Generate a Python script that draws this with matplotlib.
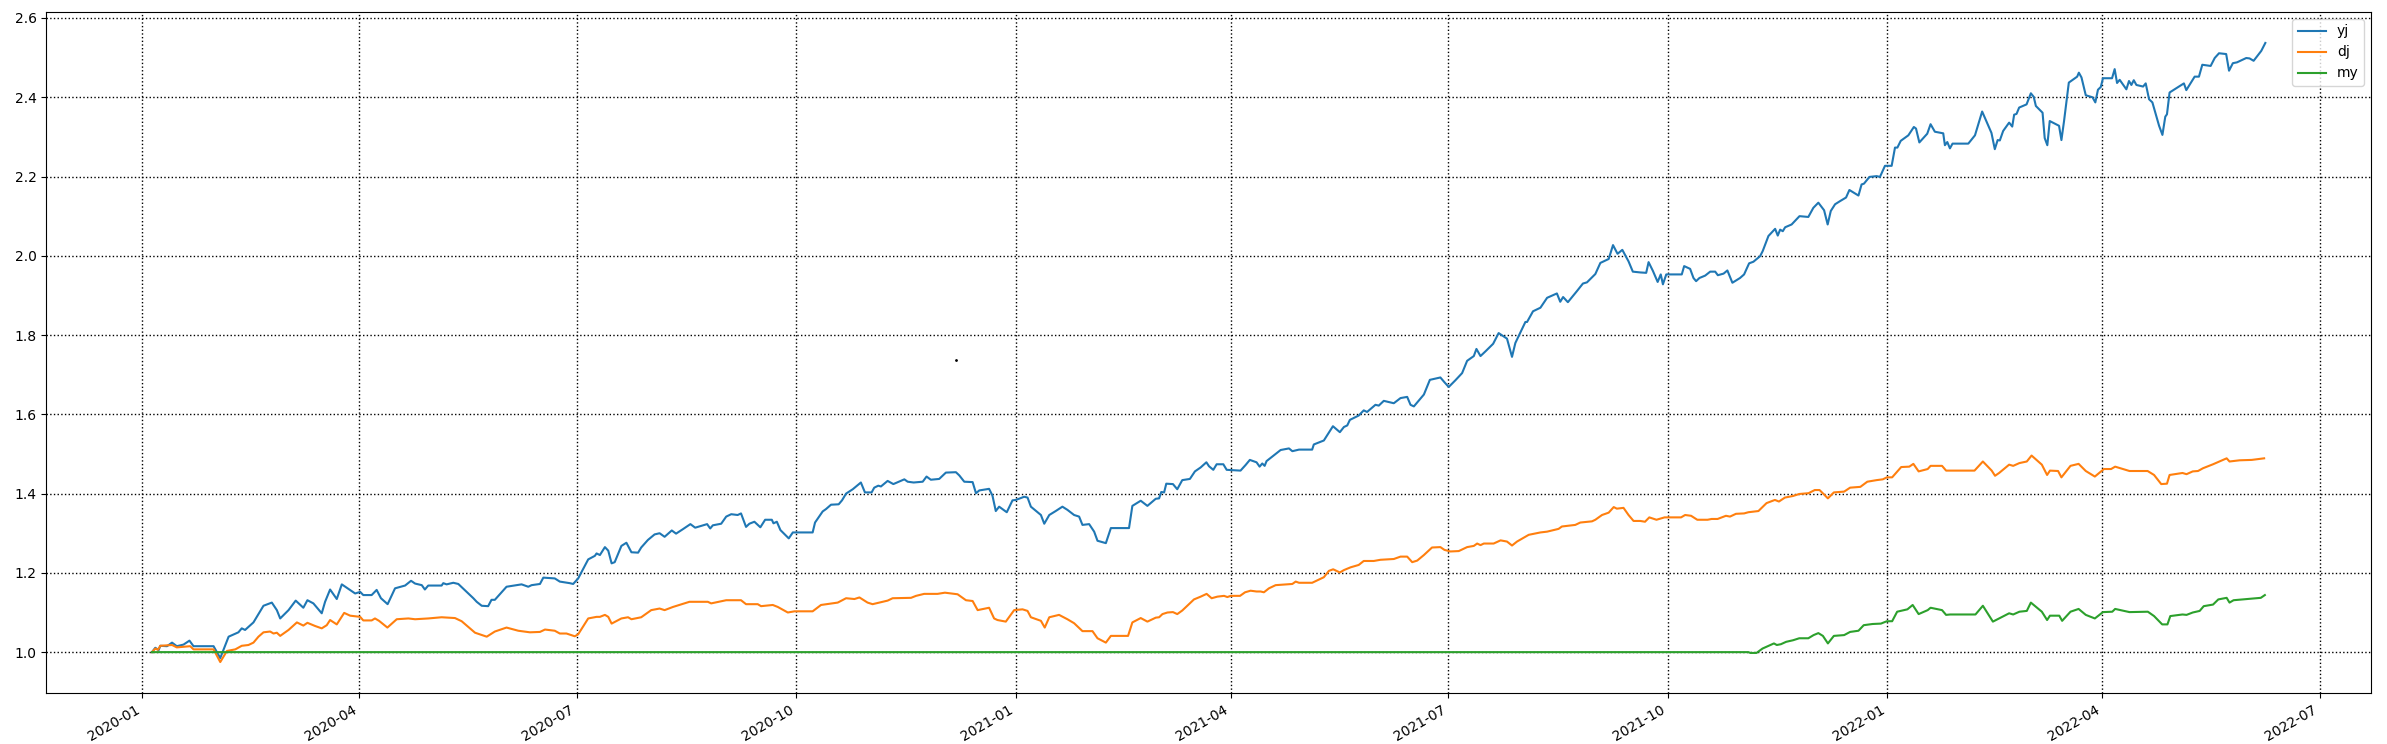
import matplotlib
matplotlib.use('Agg')
import matplotlib.dates as mdates
import pandas
from matplotlib import pyplot

start = pandas.Timestamp('2020-01-01')

# days counted from 2020-01-01
yj_day = [4.2, 5.6, 7.0, 7.7, 10.5, 12.6, 14.6, 17.4, 19.9, 21.6, 30.0, 32.8, 36.3, 40.4, 41.8, 43.2,
          46.7, 48.1, 50.9, 54.4, 56.5, 57.9, 61.4, 64.4, 67.6, 69.3, 71.8, 75.3, 76.7, 78.8, 81.6,
          83.7, 89.3, 91.4, 92.7, 96.2, 98.3, 100.1, 102.9, 106.0, 110.2, 112.7, 114.4, 117.2, 118.5,
          119.9, 125.5, 126.2, 127.6, 130.4, 132.5, 136.0, 138.8, 140.2, 142.3, 145.0, 146.4, 147.8,
          152.7, 154.8, 159.0, 161.8, 163.2, 166.7, 168.1, 172.9, 175.0, 179.2, 180.6, 182.7, 186.9,
          189.7, 190.4, 191.8, 193.9, 195.3, 196.7, 198.0, 200.8, 202.9, 205.0, 207.8,
          209.1, 211.9, 214.7, 216.8, 218.9, 221.9, 223.7, 226.5, 229.7, 231.7, 236.7, 238.0, 239.1,
          242.6, 244.7, 246.8, 249.5, 250.9, 253.0, 254.4, 256.5, 259.0, 261.0, 263.8, 264.5, 265.9,
          267.4, 270.9, 272.6, 280.9, 281.9, 285.1, 286.5, 288.6, 291.8, 293.2, 294.9, 297.7, 301.1,
          302.8, 305.6, 306.7, 308.4, 309.5, 312.3, 314.7, 319.3, 320.7, 323.2, 327.0, 328.6, 330.4,
          333.9, 336.7, 340.9, 342.3, 344.4, 347.9, 349.3, 350.7, 354.8, 356.2, 357.6, 359.0, 362.2,
          364.6, 366.0, 369.5, 370.9, 372.3, 376.5, 377.9, 380.0, 382.7, 385.5, 387.6, 390.4, 392.5,
          393.9, 396.7, 398.8, 400.2, 403.7, 405.8, 413.4, 414.8,
          418.3, 421.1, 424.6, 426.0, 426.9, 428.1, 429.0, 431.8, 433.6, 435.7, 438.9, 441.0, 443.4,
          445.8, 446.9, 448.7, 450.1, 452.9, 454.3, 460.1, 462.2, 464.0, 466.8, 468.1, 469.2, 470.2,
          471.0, 474.8, 476.9, 480.4, 481.8, 484.6, 490.1, 490.8, 495.0, 498.8, 501.7, 503.4, 504.8,
          505.9, 509.6, 511.7, 513.1, 516.6, 518.0, 520.1, 524.3, 527.1, 529.9, 531.3, 532.7, 536.9,
          539.4, 543.8, 545.5, 547.3, 550.1, 552.9, 555.0, 557.8, 558.9, 560.6, 562.7, 565.9, 568.2,
          571.7, 573.8, 575.2, 579.4, 580.1, 582.6, 585.7, 588.5, 592.6, 594.0, 595.2, 597.2, 601.0,
          603.5, 605.2, 608.7, 610.8, 614.3, 616.1, 618.0, 620.0, 622.6, 624.4,
          627.5, 630.0, 631.0, 632.8, 634.8, 636.1, 637.0, 638.4, 644.9, 645.9, 648.4, 649.8, 650.9,
          652.3, 654.7, 656.8, 658.9, 660.0, 662.4, 664.0, 666.1, 669.3, 671.0, 673.1, 674.9, 677.7,
          678.8, 681.2, 684.0, 685.1, 686.1, 687.2, 688.2, 690.9, 694.2, 697.9, 700.0, 702.1, 704.5,
          706.0, 707.3, 709.1, 711.2, 713.7, 715.1, 718.9, 720.2, 721.2, 723.5, 726.5, 727.9, 730.0,
          732.8, 734.2, 735.2, 736.6, 739.8, 742.1, 743.0, 744.4, 747.7, 749.1, 750.9, 754.4, 755.1,
          756.1, 757.2, 758.3, 764.9, 767.7, 770.7, 774.6, 776.0, 777.2,
          778.1, 779.5, 782.0, 783.3, 784.1, 785.1, 786.2, 789.3, 791.1, 792.3, 793.2, 796.0, 796.9,
          798.0, 799.0, 802.9, 803.9, 805.0, 807.0, 810.5, 811.2, 812.3, 814.1, 815.8, 816.9, 818.1,
          819.2, 820.4, 821.3, 825.1, 826.2, 827.2, 828.3, 831.1, 832.2, 833.2, 834.2, 835.3, 838.1,
          839.2, 840.6, 842.0, 844.8, 846.2, 847.4, 848.1, 849.2, 855.2, 856.2, 859.7, 861.5, 862.9,
          866.4, 868.1, 869.9, 872.9, 874.1, 875.7, 877.4, 881.3, 882.7, 884.4, 887.6, 889.3]
yj_val = [1.000, 1.011, 1.005, 1.016, 1.015, 1.024, 1.015, 1.019, 1.029, 1.015, 1.015, 0.985, 1.039,
          1.050, 1.060, 1.056, 1.075, 1.089, 1.117, 1.125, 1.106, 1.085, 1.106, 1.130, 1.112, 1.131,
          1.123, 1.098, 1.127, 1.158, 1.134, 1.171, 1.148, 1.152, 1.144, 1.144, 1.157, 1.136, 1.121,
          1.161, 1.168, 1.180, 1.173, 1.169, 1.158, 1.168, 1.168, 1.174, 1.171, 1.175, 1.172, 1.152,
          1.136, 1.127, 1.117, 1.116, 1.132, 1.132, 1.165, 1.167, 1.171, 1.165, 1.169, 1.172, 1.188,
          1.186, 1.178, 1.174, 1.172, 1.186, 1.234, 1.243, 1.249, 1.245, 1.265, 1.256, 1.224, 1.227,
          1.268, 1.276, 1.252, 1.251,
          1.264, 1.283, 1.297, 1.300, 1.291, 1.307, 1.299, 1.310, 1.323, 1.314, 1.323, 1.312, 1.320,
          1.324, 1.342, 1.348, 1.346, 1.350, 1.316, 1.324, 1.329, 1.315, 1.334, 1.334, 1.325, 1.329,
          1.308, 1.287, 1.302, 1.302, 1.327, 1.355, 1.361, 1.372, 1.373, 1.383, 1.400, 1.411, 1.428,
          1.403, 1.403, 1.415, 1.420, 1.418, 1.432, 1.424, 1.436, 1.430, 1.428, 1.430, 1.443, 1.435,
          1.437, 1.453, 1.454, 1.446, 1.430, 1.429, 1.401, 1.408, 1.412, 1.395, 1.356, 1.367, 1.353,
          1.383, 1.384, 1.392, 1.390, 1.367, 1.346, 1.324, 1.346, 1.356, 1.367, 1.359, 1.346, 1.342,
          1.321, 1.323, 1.304, 1.281, 1.275, 1.313, 1.313, 1.369,
          1.382, 1.369, 1.387, 1.388, 1.404, 1.403, 1.425, 1.424, 1.411, 1.434, 1.437, 1.456, 1.466,
          1.479, 1.469, 1.460, 1.474, 1.474, 1.460, 1.458, 1.472, 1.485, 1.479, 1.468, 1.476, 1.470,
          1.482, 1.500, 1.510, 1.514, 1.507, 1.511, 1.511, 1.524, 1.534, 1.570, 1.555, 1.568, 1.572,
          1.586, 1.597, 1.610, 1.606, 1.624, 1.622, 1.634, 1.628, 1.641, 1.644, 1.624, 1.620, 1.650,
          1.687, 1.693, 1.681, 1.669, 1.686, 1.704, 1.735, 1.747, 1.765, 1.747, 1.759, 1.778, 1.805,
          1.791, 1.745, 1.780, 1.833, 1.833, 1.860, 1.869, 1.894, 1.905, 1.884, 1.896, 1.883, 1.911,
          1.930, 1.933, 1.954, 1.982, 1.992, 2.027, 2.005, 2.015, 1.986, 1.960,
          1.958, 1.957, 1.984, 1.962, 1.934, 1.953, 1.928, 1.953, 1.953, 1.974, 1.967, 1.944, 1.936,
          1.944, 1.950, 1.960, 1.960, 1.951, 1.955, 1.963, 1.932, 1.944, 1.953, 1.981, 1.985, 1.999,
          2.012, 2.050, 2.068, 2.051, 2.066, 2.062, 2.072, 2.079, 2.100, 2.098, 2.121, 2.134, 2.115,
          2.079, 2.113, 2.130, 2.138, 2.147, 2.166, 2.152, 2.180, 2.182, 2.199, 2.201, 2.199, 2.227,
          2.227, 2.273, 2.273, 2.290, 2.304, 2.325, 2.321, 2.286, 2.308, 2.332, 2.313, 2.309, 2.279,
          2.287, 2.271, 2.283, 2.283, 2.304, 2.364, 2.310, 2.269, 2.292,
          2.291, 2.315, 2.336, 2.326, 2.356, 2.358, 2.374, 2.382, 2.410, 2.401, 2.378, 2.361, 2.297,
          2.279, 2.340, 2.328, 2.292, 2.340, 2.437, 2.452, 2.462, 2.450, 2.405, 2.402, 2.400, 2.387,
          2.419, 2.426, 2.448, 2.448, 2.471, 2.436, 2.444, 2.420, 2.441, 2.431, 2.443, 2.431, 2.427,
          2.435, 2.395, 2.387, 2.328, 2.305, 2.351, 2.357, 2.412, 2.435, 2.418, 2.452, 2.452, 2.482,
          2.479, 2.499, 2.511, 2.509, 2.467, 2.486, 2.488, 2.499, 2.498, 2.492, 2.517, 2.537]

dj_day = [4.2, 5.6, 6.7, 7.7, 12.6, 14.6, 20.2, 21.6, 30.0, 32.8, 35.6, 39.1, 41.8, 44.6, 46.7, 48.8,
          50.9, 53.7, 55.1, 56.5, 57.9, 61.4, 64.9, 67.6, 69.3, 72.5, 75.3, 77.4, 78.8, 81.6, 84.7,
          87.2, 91.4, 92.7, 96.2, 97.6, 99.3, 102.8, 106.7, 111.6, 114.4, 119.9, 125.5, 131.1, 133.9,
          137.4, 139.5, 144.4, 147.8, 152.7, 157.6, 162.5, 166.7, 168.8, 172.9, 175.0, 177.8, 181.3,
          182.7, 186.9, 190.4, 191.8, 193.9, 195.3, 196.7, 200.8, 203.6, 205.0,
          209.1, 213.3, 216.8, 218.9, 222.4, 229.3, 237.0, 238.4, 244.7, 250.9, 253.0, 257.9, 259.3,
          264.2, 266.3, 270.5, 273.3, 280.9, 284.4, 291.4, 294.9, 298.4, 300.5, 303.9, 306.0, 312.3,
          314.4, 322.1, 324.2, 327.6, 333.2, 336.3, 341.6, 345.1, 347.9, 350.0, 354.8, 356.9, 358.3,
          361.8, 365.3, 368.8, 370.9, 372.3, 376.5, 378.1, 380.0, 384.1, 387.6, 390.4, 393.9, 398.1,
          400.2, 403.7, 405.8, 413.0, 414.8,
          418.3, 421.1, 424.6, 426.0, 427.4, 429.5, 431.8, 433.6, 435.7, 440.6, 443.4, 445.9, 448.0,
          450.4, 453.2, 454.6, 456.0, 459.9, 462.0, 464.3, 466.8, 468.5, 469.9, 472.0, 474.8, 481.8,
          483.2, 484.6, 490.1, 495.0, 497.1, 498.9, 501.7, 503.4, 506.2, 509.6, 511.7, 515.9, 518.7,
          524.3, 527.1, 529.9, 532.0, 534.1, 536.9, 540.3, 543.8, 545.5, 548.0, 551.5, 555.0, 557.8,
          559.2, 560.6, 562.0, 566.1, 569.0, 571.7, 573.8, 575.9, 580.8, 585.7, 588.5, 593.3, 594.7,
          600.3, 602.4, 607.3, 608.7, 611.5, 614.3, 616.4, 617.7, 620.5, 622.6, 624.7,
          627.5, 629.5, 631.3, 634.3, 637.7, 644.6, 646.3, 648.8, 651.4, 655.7, 657.4, 659.9, 663.4,
          665.1, 667.6, 671.0, 672.8, 677.0, 680.4, 683.9, 685.6, 688.1, 691.5, 694.1, 698.0, 700.6,
          702.6, 706.1, 708.6, 712.9, 715.4, 719.7, 722.6, 726.5, 729.1, 730.8, 733.0, 736.8, 740.2,
          741.9, 744.1, 747.9, 749.1, 753.9, 755.6, 757.3, 767.5, 771.0, 774.7, 776.1, 777.8, 782.0,
          783.7, 786.3, 789.4, 791.4, 795.7, 797.9, 799.1, 802.5, 803.9, 807.7, 811.1, 814.1, 817.9,
          821.7, 824.7, 826.4, 832.4, 840.0, 842.7, 845.7, 848.1, 849.2, 854.6, 856.3, 858.9, 861.1,
          863.2, 867.4, 873.1, 874.3, 878.5, 883.6, 888.8]
dj_val = [1.000, 1.009, 1.006, 1.016, 1.018, 1.012, 1.015, 1.007, 1.007, 0.975, 1.003, 1.007, 1.016,
          1.018, 1.024, 1.039, 1.050, 1.052, 1.047, 1.049, 1.041, 1.056, 1.075, 1.067, 1.074, 1.066,
          1.060, 1.068, 1.081, 1.070, 1.099, 1.092, 1.089, 1.080, 1.080, 1.085, 1.079, 1.062, 1.083,
          1.085, 1.083, 1.085, 1.088, 1.086, 1.078, 1.060, 1.049, 1.039, 1.052, 1.062, 1.054, 1.050,
          1.051, 1.057, 1.054, 1.047, 1.047, 1.040, 1.045, 1.085, 1.089, 1.089, 1.094, 1.089, 1.072,
          1.085, 1.088, 1.083,
          1.088, 1.106, 1.110, 1.106, 1.114, 1.127, 1.127, 1.123, 1.131, 1.131, 1.121, 1.121, 1.116,
          1.119, 1.114, 1.100, 1.103, 1.103, 1.119, 1.125, 1.136, 1.134, 1.138, 1.125, 1.121, 1.130,
          1.136, 1.137, 1.142, 1.147, 1.147, 1.150, 1.146, 1.131, 1.129, 1.106, 1.112, 1.085, 1.081,
          1.077, 1.106, 1.108, 1.104, 1.088, 1.079, 1.062, 1.088, 1.094, 1.083, 1.073, 1.053, 1.053,
          1.035, 1.024, 1.041, 1.041, 1.075,
          1.086, 1.077, 1.087, 1.088, 1.096, 1.100, 1.101, 1.096, 1.105, 1.133, 1.140, 1.147, 1.136,
          1.140, 1.142, 1.139, 1.142, 1.142, 1.151, 1.155, 1.153, 1.153, 1.151, 1.161, 1.169, 1.172,
          1.178, 1.175, 1.175, 1.189, 1.205, 1.209, 1.201, 1.207, 1.214, 1.220, 1.230, 1.230, 1.233,
          1.235, 1.241, 1.241, 1.227, 1.231, 1.245, 1.264, 1.265, 1.258, 1.254, 1.255, 1.265, 1.268,
          1.274, 1.270, 1.274, 1.274, 1.282, 1.279, 1.269, 1.279, 1.296, 1.302, 1.304, 1.311, 1.317,
          1.321, 1.327, 1.330, 1.334, 1.346, 1.352, 1.366, 1.362, 1.364, 1.346, 1.331,
          1.331, 1.329, 1.340, 1.334, 1.340, 1.340, 1.346, 1.344, 1.334, 1.334, 1.336, 1.336, 1.344,
          1.342, 1.349, 1.350, 1.353, 1.356, 1.376, 1.384, 1.380, 1.390, 1.394, 1.399, 1.401, 1.409,
          1.409, 1.388, 1.403, 1.405, 1.415, 1.417, 1.430, 1.434, 1.436, 1.441, 1.441, 1.467, 1.468,
          1.475, 1.456, 1.462, 1.470, 1.470, 1.458, 1.458, 1.458, 1.481, 1.458, 1.445, 1.452, 1.473,
          1.470, 1.477, 1.481, 1.496, 1.473, 1.447, 1.458, 1.457, 1.441, 1.470, 1.475, 1.457, 1.443,
          1.462, 1.462, 1.468, 1.457, 1.457, 1.447, 1.424, 1.425, 1.447, 1.452, 1.449, 1.456, 1.457,
          1.464, 1.474, 1.489, 1.481, 1.484, 1.485, 1.489]

my_day = [4.2, 672.8, 673.6, 676.2, 678.7, 683.5, 684.7, 686.4, 688.6, 691.5, 694.1, 697.9, 700.1,
          702.1, 704.0, 706.1, 708.6, 712.9, 715.4, 718.9, 721.1, 724.8, 728.3, 730.8, 733.0, 735.1,
          739.4, 741.6, 744.1, 747.9, 749.1, 753.9, 755.6, 757.3, 767.9, 771.0, 775.2, 777.8, 782.0,
          783.7, 786.3, 789.4, 791.1, 795.7, 797.9, 799.1, 803.0, 804.2, 807.7, 811.1, 814.1, 817.9,
          821.3, 825.2, 826.4, 832.4, 840.1, 842.7, 846.1, 848.3, 849.5, 854.6, 856.3, 858.9, 861.8,
          863.5, 867.4, 869.6, 873.1, 874.3, 876.0, 883.6, 887.4, 889.1]
my_val = [1.000, 1.000, 0.998, 0.998, 1.009, 1.022, 1.018, 1.020, 1.026, 1.030, 1.035, 1.035, 1.043,
          1.048, 1.041, 1.022, 1.041, 1.043, 1.051, 1.054, 1.068, 1.071, 1.072, 1.078, 1.078, 1.102,
          1.108, 1.119, 1.096, 1.106, 1.112, 1.106, 1.094, 1.095, 1.095, 1.117, 1.077, 1.085, 1.098,
          1.095, 1.102, 1.104, 1.125, 1.102, 1.081, 1.092, 1.092, 1.079, 1.102, 1.109, 1.094, 1.085,
          1.101, 1.102, 1.109, 1.101, 1.102, 1.091, 1.070, 1.070, 1.091, 1.095, 1.094, 1.100, 1.104,
          1.116, 1.120, 1.133, 1.137, 1.125, 1.131, 1.135, 1.137, 1.144]

# stray dot in the middle of the picture
dot_day = [340.9]
dot_val = [1.736]


def to_dates(days):
    return start + pandas.to_timedelta(days, unit='D')


fig = pyplot.figure(figsize=(23.87, 7.44), dpi=100)
ax = fig.add_axes([46.3 / 2387, 51 / 744, (2371 - 46.3) / 2387, 681 / 744])

ax.plot(to_dates(yj_day), yj_val, label='yj')
ax.plot(to_dates(dj_day), dj_val, label='dj')
ax.plot(to_dates(my_day), my_val, label='my')
ax.plot(to_dates(dot_day), dot_val, 'k.', markersize=2, scalex=False, scaley=False)

ax.xaxis.set_major_locator(mdates.MonthLocator(bymonth=[1, 4, 7, 10]))
ax.xaxis.set_major_formatter(mdates.DateFormatter('%Y-%m'))
ax.grid(color='black', linestyle=':', linewidth=1)
ax.legend(loc='upper right')
for lbl in ax.get_xticklabels():
    lbl.set_rotation(30)
    lbl.set_horizontalalignment('right')

pyplot.savefig('out.png', dpi=100)
